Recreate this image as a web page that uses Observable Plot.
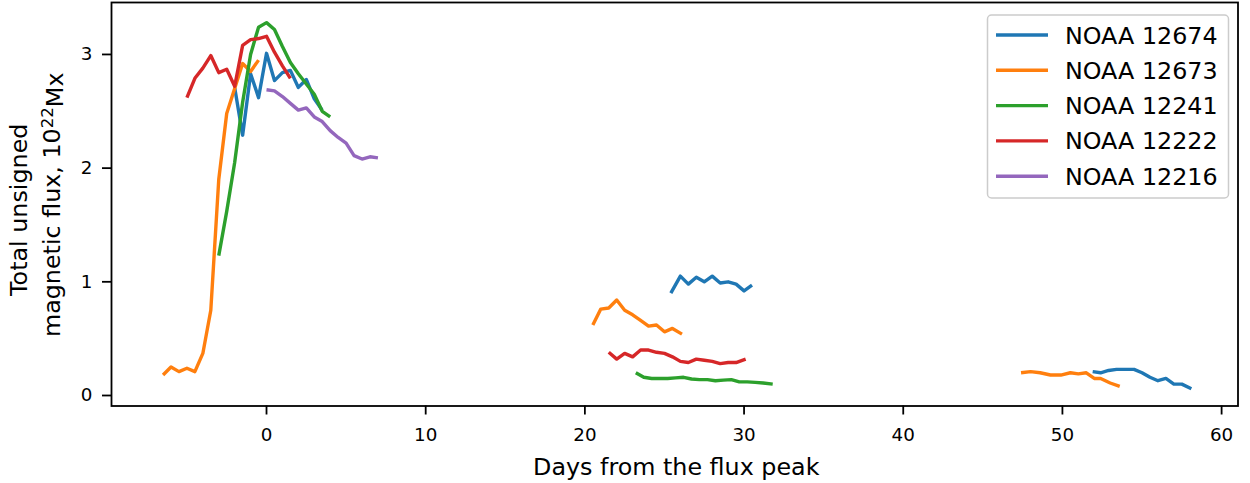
<!DOCTYPE html>
<html><head><meta charset="utf-8">
<script src="https://cdn.jsdelivr.net/npm/d3@7"></script>
<script src="https://cdn.jsdelivr.net/npm/@observablehq/plot@0.6"></script>
<style>body{margin:0;background:#fff} svg{display:block}</style>
</head><body><div id="chart"></div>
<script>
const regionNames = ["NOAA 12674", "NOAA 12673", "NOAA 12241", "NOAA 12222", "NOAA 12216"];
const regionColors = ["#1f77b4", "#ff7f0e", "#2ca02c", "#d62728", "#9467bd"];

// NaN separates observation windows (gaps in the line)
const days12674 = [-2, -1.5, -1, -0.5, 0, 0.5, 1, 1.5, 2, 2.5, 3, 3.5, NaN,
  25.4, 26, 26.5, 27, 27.5, 28, 28.5, 29, 29.5, 30, 30.5, NaN,
  51.9, 52.4, 52.9, 53.4, 54, 54.5, 55, 55.5, 56, 56.5, 57, 57.5, 58.1];
const flux12674 = [2.71, 2.29, 2.83, 2.62, 3.01, 2.77, 2.84, 2.86, 2.71, 2.78, 2.61, 2.51, NaN,
  0.90, 1.05, 0.98, 1.04, 1.00, 1.05, 0.99, 1.00, 0.98, 0.92, 0.97, NaN,
  0.21, 0.20, 0.22, 0.23, 0.23, 0.23, 0.20, 0.16, 0.13, 0.15, 0.10, 0.10, 0.06];

const days12673 = [-6.5, -6, -5.5, -5, -4.5, -4, -3.5, -3, -2.5, -2, -1.5, -1, -0.5, NaN,
  20.5, 21, 21.5, 22, 22.5, 23, 23.5, 24, 24.5, 25, 25.5, 26.1, NaN,
  47.4, 48, 48.6, 49.25, 49.9, 50.5, 51, 51.5, 52, 52.4, 53, 53.6];
const flux12673 = [0.18, 0.25, 0.21, 0.24, 0.21, 0.37, 0.75, 1.90, 2.48, 2.70, 2.92, 2.85, 2.95, NaN,
  0.62, 0.76, 0.77, 0.84, 0.75, 0.71, 0.66, 0.61, 0.62, 0.56, 0.59, 0.54, NaN,
  0.20, 0.21, 0.20, 0.18, 0.18, 0.20, 0.19, 0.20, 0.15, 0.15, 0.11, 0.08];

const days12241 = [-3, -2.5, -2, -1.5, -1, -0.5, 0, 0.5, 1, 1.5, 2, 2.5, 3, 3.5, 4, NaN,
  23.2, 23.7, 24.2, 24.7, 25.2, 25.7, 26.2, 26.7, 27.2, 27.7, 28.2, 28.7, 29.2, 29.7, 30.2, 30.7, 31.2, 31.8];
const flux12241 = [1.23, 1.62, 2.05, 2.58, 3.00, 3.24, 3.28, 3.22, 3.07, 2.93, 2.83, 2.74, 2.65, 2.50, 2.45, NaN,
  0.20, 0.16, 0.15, 0.15, 0.15, 0.155, 0.16, 0.145, 0.14, 0.14, 0.13, 0.135, 0.14, 0.12, 0.12, 0.115, 0.11, 0.10];

const days12222 = [-5, -4.5, -4, -3.5, -3, -2.5, -2, -1.5, -1, -0.5, 0, 0.5, 1, 1.5, NaN,
  21.5, 22, 22.5, 23, 23.5, 24, 24.5, 25, 25.5, 26, 26.5, 27, 27.5, 28, 28.5, 29, 29.5, 30.1];
const flux12222 = [2.62, 2.79, 2.88, 2.99, 2.84, 2.87, 2.72, 3.08, 3.13, 3.14, 3.16, 3.02, 2.90, 2.79, NaN,
  0.38, 0.32, 0.37, 0.34, 0.40, 0.40, 0.38, 0.37, 0.34, 0.30, 0.29, 0.32, 0.31, 0.30, 0.28, 0.29, 0.29, 0.32];

const days12216 = [0, 0.5, 1, 1.5, 2, 2.5, 3, 3.5, 4, 4.5, 5, 5.5, 6, 6.5, 7];
const flux12216 = [2.69, 2.68, 2.63, 2.57, 2.51, 2.53, 2.45, 2.41, 2.33, 2.27, 2.22, 2.11, 2.08, 2.10, 2.09];

const xTicks = [0, 10, 20, 30, 40, 50, 60];
const yTicks = [0, 1, 2, 3];
const xLabel = "Days from the flux peak";
const yLabelLine1 = "Total unsigned";
const yLabelLine2 = ["magnetic flux, 10", "22", "Mx"];

const series = [[days12674, flux12674], [days12673, flux12673], [days12241, flux12241],
                [days12222, flux12222], [days12216, flux12216]];
const rows = series.flatMap(([d, f], i) =>
  d.map((x, j) => ({region: regionNames[i], day: x, flux: f[j]})));

const W = 1250, H = 483;
const mL = 111, mR = 12.5, mT = 2, mB = 77.5;

const chart = Plot.plot({
  width: W, height: H,
  marginLeft: mL, marginRight: mR, marginTop: mT, marginBottom: mB,
  style: {fontFamily: "DejaVu Sans", fontSize: "18.3px", color: "black", background: "white"},
  x: {domain: [-9.738, 61.03]},
  y: {domain: [-0.0924, 3.457]},
  color: {domain: regionNames, range: regionColors},
  marks: [
    Plot.line(rows, {x: "day", y: "flux", z: "region", stroke: "region", strokeWidth: 3.4, strokeLinejoin: "round", strokeLinecap: "butt"}),
    Plot.frame({stroke: "black", strokeWidth: 1.8}),
    Plot.axisX({ticks: xTicks, tickSize: 9, tickPadding: 13, strokeWidth: 1.8, label: null, fontSize: 18.3, tickFormat: d => String(d)}),
    Plot.axisY({ticks: yTicks, tickSize: 9, tickPadding: 10, strokeWidth: 1.8, label: null, fontSize: 18.3, tickFormat: d => String(d)})
  ]
});
document.getElementById("chart").appendChild(chart);

const svg = d3.select(chart);
const labelFont = "23.8px";
const cx = mL + (W - mL - mR) / 2;
const cy = mT + (H - mT - mB) / 2;

svg.append("text")
  .attr("x", cx + 2).attr("y", 475)
  .attr("text-anchor", "middle")
  .attr("font-family", "DejaVu Sans").attr("font-size", labelFont).attr("fill", "black")
  .text(xLabel);

const yl = svg.append("g").attr("transform", "rotate(-90)")
  .attr("font-family", "DejaVu Sans").attr("font-size", labelFont).attr("fill", "black")
  .attr("text-anchor", "middle");
yl.append("text").attr("x", -(cy + 6)).attr("y", 27).text(yLabelLine1);
const t2 = yl.append("text").attr("x", -(cy + 1)).attr("y", 60);
t2.append("tspan").text(yLabelLine2[0]);
t2.append("tspan").attr("dy", "-0.42em").attr("font-size", "16.6px").text(yLabelLine2[1]);
t2.append("tspan").attr("dy", "0.42em").text(yLabelLine2[2]);

// legend
const lg = svg.append("g").attr("font-family", "DejaVu Sans").attr("font-size", labelFont)
  .attr("text-anchor", "start");
lg.append("rect").attr("x", 987.5).attr("y", 15).attr("width", 241).attr("height", 183)
  .attr("rx", 4).attr("fill", "white").attr("fill-opacity", 0.8)
  .attr("stroke", "#cccccc").attr("stroke-width", 1.5);
regionNames.forEach((name, i) => {
  const y = 35 + i * 35.3;
  lg.append("line").attr("x1", 996).attr("x2", 1048).attr("y1", y).attr("y2", y)
    .attr("stroke", regionColors[i]).attr("stroke-width", 3.4);
  lg.append("text").attr("x", 1065).attr("y", y).attr("dy", "0.36em")
    .attr("text-anchor", "start").attr("fill", "black").text(name);
});
</script>
</body></html>
